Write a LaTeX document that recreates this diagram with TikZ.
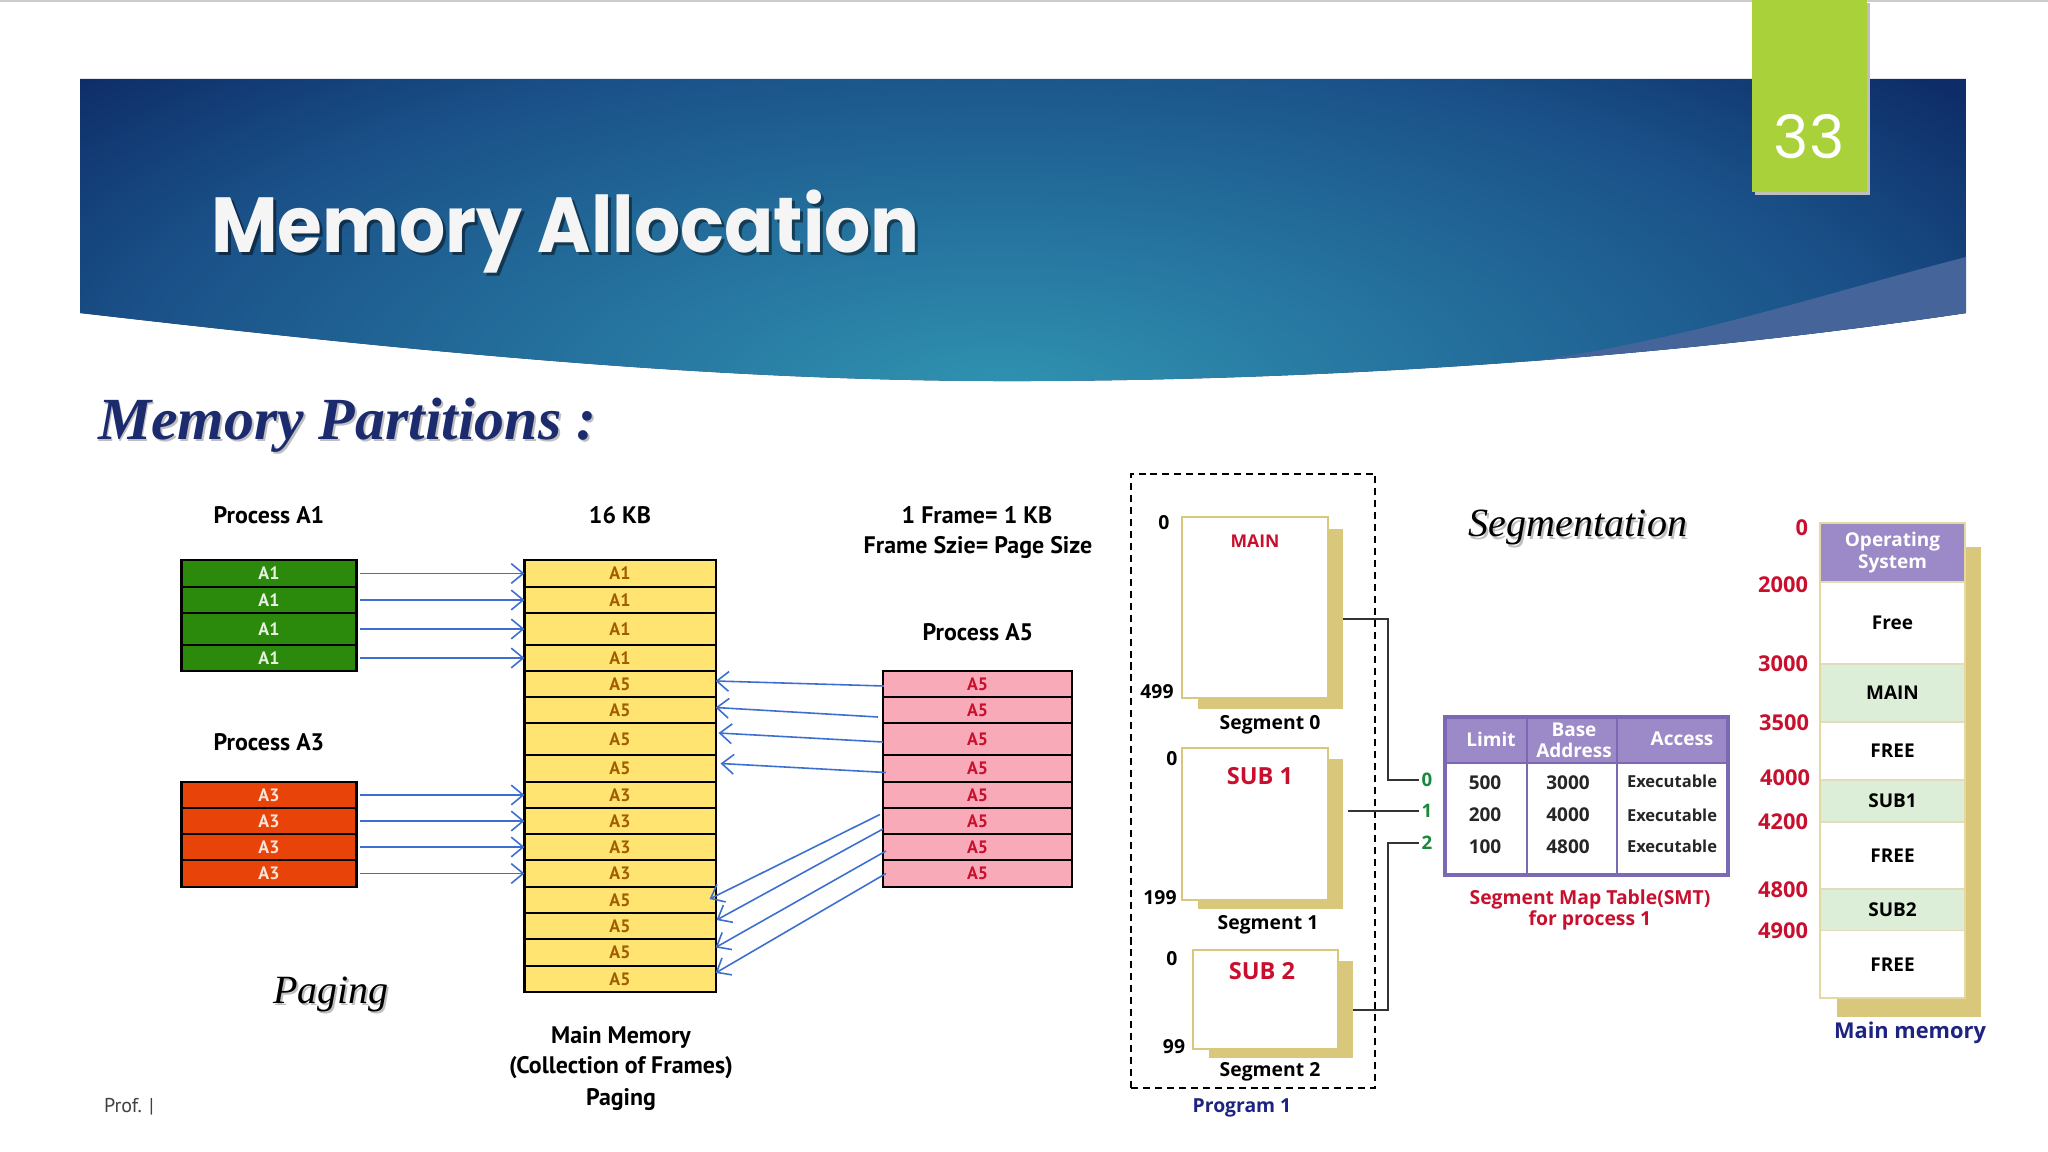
\documentclass[tikz,border=0pt]{standalone}
\usepackage{fontspec}
\setmainfont{Liberation Serif}
\newfontfamily\ptsans{PT Sans}
\newfontfamily\opensans{Open Sans}
\newfontfamily\titlefont[FakeStretch=0.93]{Poppins}
\newfontfamily\numfont{Poppins}
\usetikzlibrary{arrows.meta,calc}
\newcommand\myfs[2]{\fontsize{#1pt}{#2pt}\selectfont}

\definecolor{bandA}{HTML}{3094B0}
\definecolor{bandB}{HTML}{2778A2}
\definecolor{bandC}{HTML}{1A5188}
\definecolor{bandR}{HTML}{0E2D68}
\definecolor{sliver}{HTML}{45659A}
\definecolor{tabgreen}{HTML}{A8D13A}
\definecolor{parttitle}{HTML}{1B2B6E}
\definecolor{cgreen}{HTML}{2B8A0C}
\definecolor{cgreentxt}{HTML}{E6F2DF}
\definecolor{cred}{HTML}{E8440A}
\definecolor{credtxt}{HTML}{FBE3D8}
\definecolor{cyel}{HTML}{FFE471}
\definecolor{cyeltxt}{HTML}{A15C00}
\definecolor{cpink}{HTML}{F8AAB8}
\definecolor{cpinktxt}{HTML}{C8102E}
\definecolor{carrow}{HTML}{3C6FD0}
\definecolor{ctan}{HTML}{D9C87B}
\definecolor{segred}{HTML}{C8102E}
\definecolor{seggreen}{HTML}{18883A}
\definecolor{navytxt}{HTML}{1C2380}
\definecolor{tpurple}{HTML}{9C89C7}
\definecolor{tborder}{HTML}{7B69B3}
\definecolor{mgreen}{HTML}{DCEDD8}
\definecolor{mline}{HTML}{E2DDB8}

\pgfdeclareradialshading{bandglow}{\pgfpoint{0bp}{0bp}}{color(0bp)=(bandA); color(7bp)=(bandB); color(17bp)=(bandC); color(23.5bp)=(bandR); color(50bp)=(bandR)}

\begin{document}
\begin{tikzpicture}[x=0.01cm,y=-0.01cm,
  every node/.style={inner sep=0pt, outer sep=0pt},
  ycell/.style={draw=black, line width=0.6pt, fill=cyel, minimum width=1.91cm, text=cyeltxt, font=\ptsans\bfseries\myfs{5.1}{5.5}},
  gcell/.style={ycell, fill=cgreen, minimum width=1.75cm, text=cgreentxt},
  rcell/.style={ycell, fill=cred, minimum width=1.75cm, text=credtxt},
  pcell/.style={ycell, fill=cpink, minimum width=1.89cm, text=cpinktxt},
  plabel/.style={font=\ptsans\bfseries\myfs{6.8}{7}, text=black},
  arr/.style={draw=carrow, line width=0.45pt, -{Straight Barb[length=3.4pt,width=5.6pt]}},
  segbox/.style={draw=ctan, line width=0.6pt, fill=white},
  segshade/.style={fill=ctan},
  stxt/.style={font=\opensans\bfseries\myfs{5.5}{6}, text=black},
  redtxt/.style={font=\opensans\bfseries\myfs{5.5}{6}, text=segred},
  subtxt/.style={font=\opensans\bfseries\myfs{6.7}{7}, text=segred},
  addr/.style={font=\opensans\bfseries\myfs{6.2}{7}, text=segred, anchor=east},
  idx/.style={font=\opensans\bfseries\myfs{5.3}{6}, text=seggreen, inner sep=0.9pt},
  conn/.style={draw=black!80, line width=0.6pt},
  thead/.style={draw=tborder, line width=0.5pt, fill=tpurple},
  tbody/.style={draw=tborder, line width=0.5pt, fill=white},
  htxt/.style={font=\opensans\bfseries\myfs{5.4}{5.9}, text=white, align=center},
  vtxt/.style={font=\opensans\bfseries\myfs{5.4}{6}, text=black!85},
  etxt/.style={font=\opensans\bfseries\myfs{4.7}{5}, text=black!85},
  mcell/.style={draw=mline, line width=0.4pt, fill=white, minimum width=1.45cm, font=\opensans\bfseries\myfs{5.4}{6.2}, text=black, align=center},
]
\useasboundingbox (0,0) rectangle (2048,1152);
\fill[white] (0,0) rectangle (2048,1152);
\draw[black!20, line width=0.6pt] (0,1) -- (2048,1);

% ---------- header band ----------
\begin{scope}
\clip (80,79) -- (1966,79) -- (1966,313) .. controls (1650,360) and (1300,382) .. (992,381) .. controls (700,380) and (400,350) .. (80,313) -- cycle;
\fill[bandR] (80,79) rectangle (1966,400);
\shade[shading=bandglow] (1000,400) ellipse (1300 and 520);
\fill[sliver] (1966,257) .. controls (1800,300) and (1650,352) .. (1476,367) -- (1476,420) -- (1990,420) -- (1990,257) -- cycle;
\end{scope}

\node[anchor=base west, font=\titlefont\bfseries\myfs{22.2}{24}, text=black, opacity=0.45] (titleshadow) at (214,256) {Memory Allocation};
\node[anchor=base west, font=\titlefont\bfseries\myfs{22.2}{24}, text=white!96!black] (title) at (211,252.7) {Memory Allocation};

\fill[black!25] (1755,3) rectangle (1870,195);
\fill[tabgreen] (1752,0) rectangle (1867,192);
\node[font=\numfont\myfs{17}{18}, text=white] (pagenum) at (1809,137) {33};

% ---------- Memory Partitions ----------
\node[anchor=base west, font=\bfseries\itshape\myfs{17}{18}, text=black!25] (mpshadow) at (100,442) {Memory Partitions :};
\node[anchor=base west, font=\bfseries\itshape\myfs{17}{18}, text=parttitle] (mp) at (98,440) {Memory Partitions :};

% ---------- Paging ----------
\foreach \i/\t/\b/\l in {1/560/587/A1, 2/587/613/A1, 3/613/645/A1, 4/645/671/A1,
  5/671/697/A5, 6/697/723/A5, 7/723/755/A5, 8/755/782/A5,
  9/782/808/A3, 10/808/834/A3, 11/834/860/A3, 12/860/887/A3,
  13/887/913/A5, 14/913/939/A5, 15/939/966/A5, 16/966/992/A5}
  \node[ycell, minimum height={(\b-\t)*0.01cm}] (y\i) at (620,{(\t+\b)/2}) {\l};

\foreach \i/\t/\b in {1/560/587, 2/587/613, 3/613/645, 4/645/671}
  \node[gcell, minimum height={(\b-\t)*0.01cm}] (g\i) at (269,{(\t+\b)/2}) {A1};

\foreach \i/\t/\b in {1/782/808, 2/808/834, 3/834/860, 4/860/887}
  \node[rcell, minimum height={(\b-\t)*0.01cm}] (r\i) at (269,{(\t+\b)/2}) {A3};

\foreach \i/\t/\b in {1/671/697, 2/697/723, 3/723/755, 4/755/782, 5/782/808, 6/808/834, 7/834/860, 8/860/887}
  \node[pcell, minimum height={(\b-\t)*0.01cm}] (p\i) at (977.5,{(\t+\b)/2}) {A5};

\node[plabel] (lA1) at (269,515) {Process A1};
\node[plabel] (lA3) at (269,742) {Process A3};
\node[plabel] (l16) at (620,515) {16 KB};
\node[plabel] (lfr1) at (977,515) {1 Frame= 1 KB};
\node[plabel] (lfr2) at (978,547) {Frame Szie= Page Size};
\node[plabel] (lA5) at (978,632) {Process A5};
\node[plabel] (mm1) at (621,1037) {Main Memory};
\node[plabel] (mm2) at (621,1068) {(Collection of Frames)};
\node[plabel] (mm3) at (621,1100) {Paging};

\node[anchor=base, font=\itshape\myfs{11.4}{12}, text=black!25] (pgshadow) at (333,1005.5) {Paging};
\node[anchor=base, font=\itshape\myfs{11.4}{12}, text=black] (pg) at (331,1003) {Paging};

\node[anchor=west, font=\ptsans\myfs{5.7}{6}, text=black!75] (prof) at (104,1107) {Prof. |};

\foreach \i in {1,2,3,4}
  \draw[arr, shorten <=0.9pt] (g\i.east) -- (y\i.west);
\draw[arr, shorten <=0.9pt] (r1.east) -- (y9.west);
\draw[arr, shorten <=0.9pt] (r2.east) -- (y10.west);
\draw[arr, shorten <=0.9pt] (r3.east) -- (y11.west);
\draw[arr, shorten <=0.9pt] (r4.east) -- (y12.west);

\draw[arr] ($(p1.west)+(1,2)$) -- ($(y5.east)+(0,-3)$);
\draw[arr] ($(p2.west)+(-5,7)$) -- ($(y6.east)+(0,-2.5)$);
\draw[arr] ($(p3.west)+(0,3)$) -- ($(y7.east)+(3,-6)$);
\draw[arr] ($(p4.west)+(3,4)$) -- ($(y8.east)+(5,-5)$);
\draw[arr] ($(p5.west)+(-3,19.5)$) -- ($(y13.east)+(-6,-1)$);
\draw[arr] ($(p6.west)+(0,8)$) -- ($(y14.east)+(1,-6)$);
\draw[arr] ($(p7.west)+(3,4)$) -- ($(y15.east)+(0,-5)$);
\draw[arr] ($(p8.west)+(3,0)$) -- ($(y16.east)+(0,-6)$);

% ---------- Segmentation: program ----------
\node[draw=black, line width=0.6pt, dash pattern=on 2pt off 1.4pt, minimum width=2.44cm, minimum height=6.14cm] (prog) at (1253,781) {};

\node[segshade, minimum width=1.45cm, minimum height=1.80cm] (s0s) at (1270.5,619) {};
\node[segbox, minimum width=1.46cm, minimum height=1.81cm] (s0) at (1255,607.5) {};
\node[segshade, minimum width=1.45cm, minimum height=1.50cm] (s1s) at (1270.5,834) {};
\node[segbox, minimum width=1.46cm, minimum height=1.52cm] (s1) at (1255,824) {};
\node[segshade, minimum width=1.44cm, minimum height=0.975cm] (s2s) at (1281,1009.7) {};
\node[segbox, minimum width=1.45cm, minimum height=0.99cm] (s2) at (1265.5,999.5) {};

\node[redtxt, font=\opensans\bfseries\myfs{5}{6}] (tmain) at (1255,541) {MAIN};
\node[subtxt] (tsub1) at (1260,776) {SUB 1};
\node[subtxt] (tsub2) at (1262,971) {SUB 2};

\node[stxt] (a0) at (1164,523) {0};
\node[stxt] (a499) at (1157,691.5) {499};
\node[stxt] (b0) at (1172,759) {0};
\node[stxt] (b199) at (1160,898) {199};
\node[stxt] (c0) at (1172,959) {0};
\node[stxt] (c99) at (1174,1047) {99};

\node[stxt] (sg0) at (1270,725) {Segment 0};
\node[stxt] (sg1) at (1268,925) {Segment 1};
\node[stxt] (sg2) at (1270,1072) {Segment 2};
\node[stxt, text=navytxt] (prog1) at (1242,1108) {Program 1};

\node[idx] (i0) at (1427,780) {0};
\node[idx] (i1) at (1427,811) {1};
\node[idx] (i2) at (1427,843) {2};
\coordinate (bus0) at (1388,619);
\coordinate (bus2) at (1388,1009.7);
\draw[conn] (s0s.east) -- (bus0) |- (i0.west);
\draw[conn] ($(s1s.east |- i1.west)+(5,0)$) -- (i1.west);
\draw[conn] (s2s.east) -- (bus2) |- (i2.west);

\node[anchor=base, font=\itshape\myfs{11.4}{12}, text=black!25] (segshadow) at (1580,539.5) {Segmentation};
\node[anchor=base, font=\itshape\myfs{11.4}{12}, text=black] (segtitle) at (1578,537) {Segmentation};

% ---------- Segment map table ----------
\node[tbody, minimum width=0.82cm, minimum height=1.12cm] (b1) at (1486,819) {};
\node[tbody, minimum width=0.90cm, minimum height=1.12cm] (b2) at (1572,819) {};
\node[tbody, minimum width=1.11cm, minimum height=1.12cm] (b3) at (1672.5,819) {};
\node[thead, minimum width=0.82cm, minimum height=0.46cm] (h1) at (1486,740) {};
\node[thead, minimum width=0.90cm, minimum height=0.46cm] (h2) at (1572,740) {};
\node[thead, minimum width=1.11cm, minimum height=0.46cm] (h3) at (1672.5,740) {};
\draw[tborder, line width=0.9pt] (h1.north west) rectangle (b3.south east);

\node[htxt] (th1) at (1491,739) {Limit};
\node[htxt] (th2) at (1574,740.5) {Base\\Address};
\node[htxt] (th3) at (1682,739) {Access};

\node[vtxt] (v11) at (1485,783) {500};
\node[vtxt] (v21) at (1485,815) {200};
\node[vtxt] (v31) at (1485,847) {100};
\node[vtxt] (v12) at (1568,783) {3000};
\node[vtxt] (v22) at (1568,815) {4000};
\node[vtxt] (v32) at (1568,847) {4800};
\node[etxt] (v13) at (1672,781) {Executable};
\node[etxt] (v23) at (1672,815) {Executable};
\node[etxt] (v33) at (1672,846) {Executable};

\node[redtxt] (smt1) at (1590,899) {Segment Map Table(SMT)};
\node[redtxt] (smt2) at (1590,920) {for process 1};

% ---------- Main memory ----------
\node[segshade, minimum width=1.44cm, minimum height=4.705cm] (ms) at (1909,782) {};
\node[mcell, fill=tpurple, text=white, minimum height=0.59cm] (mos) at (1892.5,552.5) {Operating\\System};
\node[mcell, minimum height=0.82cm] (mf1) at (1892.5,623) {Free};
\node[mcell, fill=mgreen, minimum height=0.58cm] (mmain) at (1892.5,693) {MAIN};
\node[mcell, minimum height=0.58cm] (mf2) at (1892.5,751) {FREE};
\node[mcell, fill=mgreen, minimum height=0.42cm] (msub1) at (1892.5,801) {SUB1};
\node[mcell, minimum height=0.67cm] (mf3) at (1892.5,855.5) {FREE};
\node[mcell, fill=mgreen, minimum height=0.415cm] (msub2) at (1892.5,909.75) {SUB2};
\node[mcell, minimum height=0.675cm] (mf4) at (1892.5,964.25) {FREE};
\draw[ctan!70, line width=0.5pt] (mos.north west) rectangle (mf4.south east);

\node[addr] (ad0) at (1808,528) {0};
\node[addr] (ad1) at (1808,585) {2000};
\node[addr] (ad2) at (1808,664) {3000};
\node[addr] (ad3) at (1809,723) {3500};
\node[addr] (ad4) at (1810,778) {4000};
\node[addr] (ad5) at (1808,822) {4200};
\node[addr] (ad6) at (1808,890) {4800};
\node[addr] (ad7) at (1808,930.5) {4900};

\node[font=\opensans\bfseries\myfs{6.2}{7}, text=navytxt] (mainmem) at (1910,1033) {Main memory};
\end{tikzpicture}
\end{document}
